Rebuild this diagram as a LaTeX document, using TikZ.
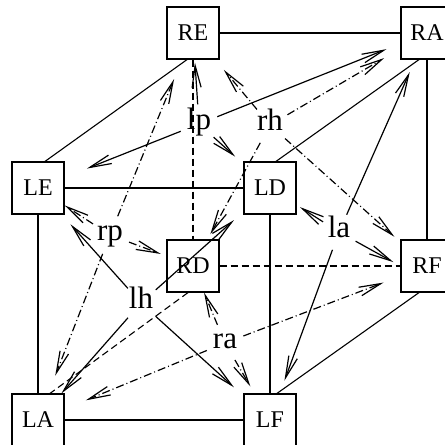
\documentclass[tikz,border=0pt]{standalone}
\usepackage{fontspec}
\setmainfont{Liberation Serif}
\usetikzlibrary{arrows.meta}

\begin{document}
\begin{tikzpicture}[
        x=0.5pt, y=-0.5pt,
        part/.style={draw, line width=0.6pt, minimum size=26pt, inner sep=0pt, font=\fontsize{12}{14}\selectfont},
        move/.style={circle, inner sep=1.5pt, text height=0.7em, text depth=0.2em, font=\fontsize{15.5}{17}\selectfont},
        rigid/.style={line width=0.55pt},
        hidden/.style={line width=0.55pt, dash pattern=on 3.5pt off 2pt},
        lmove/.style={line width=0.6pt, -{Straight Barb[length=11pt,width=4.5pt]}},
        rmove/.style={lmove, dash pattern=on 4pt off 1.5pt on 0.5pt off 1.5pt},
    ]
        \useasboundingbox (0,0) rectangle (445,445);
        \clip (0,0) rectangle (445,445);

        % Cube corners
        \node[part] (RE) at (193,33) {RE};
        \node[part] (RA) at (427,33) {RA};
        \node[part] (LE) at (38,188) {LE};
        \node[part] (LD) at (270,188) {LD};
        \node[part] (RD) at (193,266) {RD};
        \node[part] (RF) at (427,266) {RF};
        \node[part] (LA) at (38,420) {LA};
        \node[part] (LF) at (270,420) {LF};

        % Moves
        \node[move] (lp) at (199,124) {lp};
        \node[move] (rh) at (270,125) {rh};
        \node[move] (rp) at (110,235) {rp};
        \node[move] (lh) at (141,303) {lh};
        \node[move] (la) at (339,232) {la};
        \node[move] (ra) at (225,343) {ra};

        % Visible edges
        \draw[rigid] (RE) -- (RA);
        \draw[rigid] ([xshift=-3pt]RE.south) -- ([xshift=3.5pt]LE.north);
        \draw[rigid] (LE) -- (LD);
        \draw[rigid] ([xshift=3pt]LD.north) -- ([xshift=-4pt]RA.south);
        \draw[rigid] (RA) -- (RF);
        \draw[rigid] (LE) -- (LA);
        \draw[rigid] (LD) -- (LF);
        \draw[rigid] (LA) -- (LF);
        \draw[rigid] ([xshift=-4pt]RF.south) -- ([xshift=3.5pt]LF.north);

        % Hidden edges
        \draw[hidden] (RE) -- (RD);
        \draw[hidden] (RD) -- (RF);
        \draw[hidden] ([xshift=-2.5pt]RD.south) -- ([xshift=6pt]LA.north);

        % Solid moves
        \draw[lmove, shorten >=1.5pt] (lp) -- (RE);
        \draw[lmove, shorten >=12pt] (lp) -- (LE);
        \draw[lmove, shorten >=7.5pt] (lp) -- (RA);
        \draw[lmove, shorten >=5.5pt] (lp) -- (LD);
        \draw[lmove, shorten >=6.5pt] (lh) -- (LE);
        \draw[lmove, shorten >=6.3pt] (lh) -- (LD);
        \draw[lmove] (lh) -- (LA);
        \draw[lmove, shorten >=6.4pt] (lh) -- (LF);
        \draw[lmove, shorten >=2pt] (la) -- (LD);
        \draw[lmove, shorten >=4pt] (la) -- (RF.west);
        \draw[lmove, shorten >=6.8pt] (la) -- (RA);
        \draw[lmove, shorten >=6.8pt] (la) -- (LF);

        % Dash-dot moves
        \draw[rmove, shorten >=6.7pt] (rh) -- (RE);
        \draw[rmove, shorten >=9.4pt] (rh) -- (RA);
        \draw[rmove, shorten >=4pt] (rh) -- (RF);
        \draw[rmove, shorten >=3pt] (rh) -- (RD);
        \draw[rmove] (rp) -- (LE);
        \draw[rmove, shorten >=3pt] (rp) -- (RD);
        \draw[rmove, shorten >=9.5pt] (rp) -- (LA);
        \draw[rmove, shorten >=10.5pt] (rp) -- (RE);
        \draw[rmove] (ra) -- (RD);
        \draw[rmove, shorten >=4pt] (ra) -- (LF);
        \draw[rmove, shorten >=9pt] (ra) -- (RF);
        \draw[rmove, shorten >=11.5pt] (ra) -- (LA);
    \end{tikzpicture}
\end{document}
